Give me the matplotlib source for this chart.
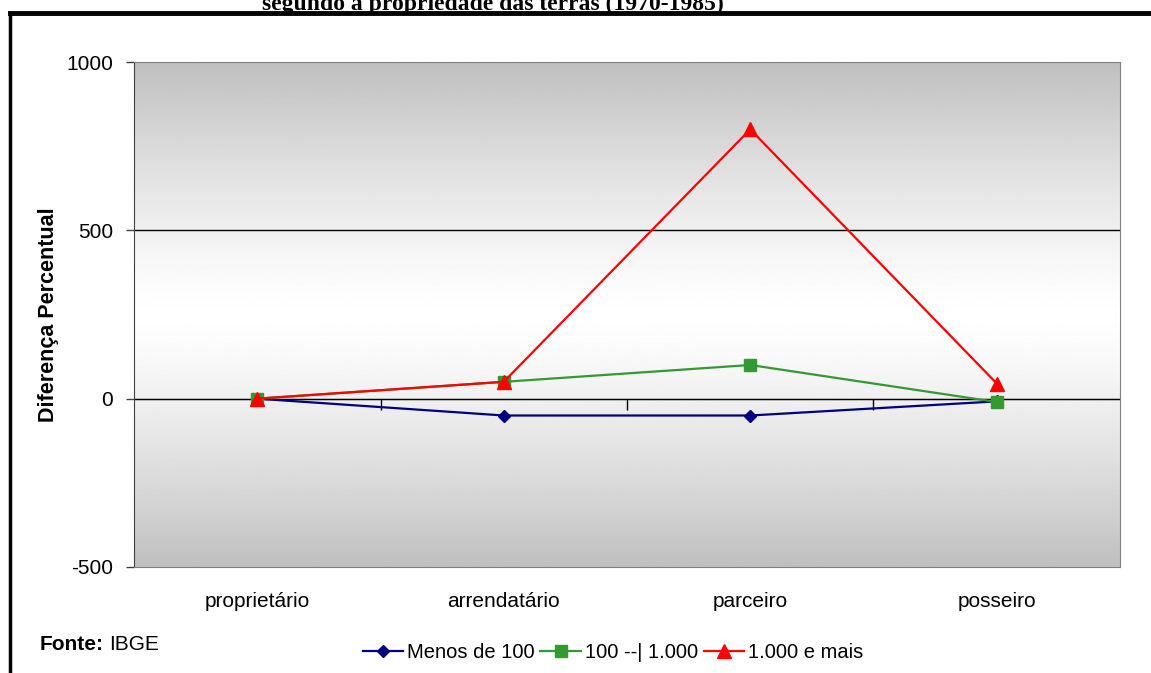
import numpy as np
import matplotlib.pyplot as plt
from matplotlib.lines import Line2D

plt.rcParams['font.family'] = ['Liberation Sans', 'DejaVu Sans']
plt.rcParams['axes.unicode_minus'] = False

# categorias e series (diferenca percentual 1970-1985)
categorias = ['proprietário', 'arrendatário', 'parceiro', 'posseiro']
menos_100 = [0, -50, -50, -8]
de_100_a_1000 = [0, 50, 100, -10]
mais_1000 = [0, 50, 800, 45]
nomes = ['Menos de 100', '100 --| 1.000', '1.000 e mais']
cores = ['#000080', '#339933', '#ff0000']
marcadores = ['D', 's', '^']
tamanhos = [6.5, 8, 9.5]

W, H = 1151, 673
fig = plt.figure(figsize=(W / 100, H / 100), dpi=100)
fig.patch.set_facecolor('white')

# moldura do grafico
fig.add_artist(Line2D([10 / W, 1], [1 - 13 / H] * 2, color='black', lw=3.5))
fig.add_artist(Line2D([10 / W] * 2, [0, 1 - 13 / H], color='black', lw=2.5))

fig.text(493 / W, 1 - 4 / H, 'segundo a propriedade das terras (1970-1985)',
         ha='center', va='center', fontsize=17, fontweight='bold',
         family='Liberation Serif')

ax = fig.add_axes([134 / W, 1 - 567 / H, (1120 - 134) / W, (567 - 62) / H])
ax.set_xlim(-0.5, 3.5)
ax.set_ylim(-500, 1000)

# fundo em degrade cinza-branco-cinza
t = np.linspace(-1, 1, 256)
grad = 0.75 + 0.25 * (1 - np.abs(t) ** 1.3)
ax.imshow(grad[:, None], extent=(0, 1, 0, 1), transform=ax.transAxes,
          cmap='gray', vmin=0, vmax=1, aspect='auto', zorder=0)

ax.axhline(500, color='black', lw=1, zorder=1)
ax.axhline(0, color='black', lw=1, zorder=1)

x = np.arange(len(categorias))
for serie, nome, cor, m, s in zip([menos_100, de_100_a_1000, mais_1000],
                                  nomes, cores, marcadores, tamanhos):
    ax.plot(x, serie, color=cor, lw=1.6, marker=m, markersize=s,
            markerfacecolor=cor, markeredgecolor=cor, label=nome, zorder=3)

for lado in ['top', 'right', 'bottom']:
    ax.spines[lado].set_color('#808080')
ax.spines['left'].set_color('#404040')

fs = 15
ax.set_yticks([-500, 0, 500, 1000])
ax.tick_params(axis='y', length=6, width=1, color='#404040', pad=9, labelsize=fs)
ax.set_xticks(x)
ax.set_xticklabels(categorias)
ax.tick_params(axis='x', length=0, pad=18, labelsize=fs)

# marcas entre categorias sobre o eixo zero
eixo0 = ax.secondary_xaxis(1 / 3)
eixo0.set_xticks([0.5, 1.5, 2.5])
eixo0.set_xticklabels([])
eixo0.tick_params(length=8, width=1, color='black')
eixo0.spines['bottom'].set_color('black')

ax.set_ylabel('Diferença Percentual', fontsize=15.5, fontweight='bold', labelpad=5)

handles, labels = ax.get_legend_handles_labels()
fig.legend(handles, labels, loc='center', bbox_to_anchor=(613 / W, 1 - 653 / H),
           ncol=3, frameon=False, fontsize=14.5, handlelength=2.0,
           handletextpad=0.2, columnspacing=0.3)

fonte = fig.text(40 / W, 1 - 645 / H, 'Fonte:', fontsize=fs, fontweight='bold', va='center')
fig.canvas.draw()
bb = fonte.get_window_extent()
fig.text((bb.x1 + 5) / W, 1 - 645 / H, 'IBGE', fontsize=fs, va='center')

fig.savefig('out.png', dpi=100)
